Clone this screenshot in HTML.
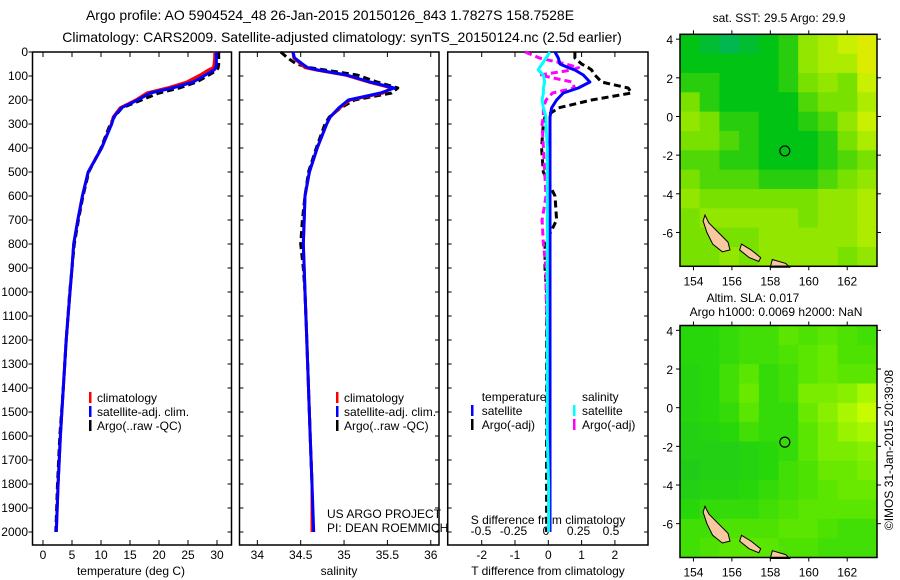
<!DOCTYPE html>
<html><head><meta charset="utf-8"><style>
body{margin:0;background:#fff;}
svg{display:block;font-family:"Liberation Sans",sans-serif;}
text{font-size:12px;fill:#000;}
</style></head><body>
<svg id="c" width="900" height="580" viewBox="0 0 900 580" xmlns="http://www.w3.org/2000/svg">
<rect x="0" y="0" width="900" height="580" fill="#fff"/>
<text x="330" y="20" text-anchor="middle" style="font-size:14px">Argo profile: AO 5904524_48 26-Jan-2015 20150126_843 1.7827S 158.7528E</text>
<text x="342" y="42" text-anchor="middle" style="font-size:14px">Climatology: CARS2009. Satellite-adjusted climatology: synTS_20150124.nc (2.5d earlier)</text>
<text x="779" y="22" text-anchor="middle">sat. SST: 29.5 Argo: 29.9</text>
<text x="753" y="302" text-anchor="middle">Altim. SLA: 0.017</text>
<text x="776" y="316" text-anchor="middle">Argo h1000: 0.0069 h2000: NaN</text>
<text transform="translate(893,450) rotate(-90)" text-anchor="middle">©IMOS 31-Jan-2015 20:39:08</text>
<g id="g"></g>
</svg>
<script>
// ---- profile data ----
const depths = [0,25,50,65,75,96,125,150,171,200,233,271,300,400,500,600,700,800,900,1000,1200,1400,1600,1800,2000];
const tempClim = [29.6,29.6,29.5,29.4,28.5,27.1,24.8,21.4,17.9,16.0,13.3,12.1,11.8,10.1,7.8,6.8,6.0,5.3,5.0,4.65,4.0,3.5,3.0,2.6,2.3];
const tempSat = [29.9,29.9,29.9,29.8,29.5,28.0,25.9,22.3,18.5,16.3,13.5,12.2,11.85,10.1,7.8,6.8,6.0,5.3,5.0,4.65,4.0,3.5,3.0,2.6,2.3];
const tempArgo = [30.3,30.3,30.3,30.2,30.0,28.6,26.5,23.5,20.0,17.0,13.6,12.3,11.6,10.0,7.9,6.9,6.1,5.4,5.0,4.6,4.0,3.5,2.9,2.5,2.2];
const salClim = [34.41,34.42,34.5,34.55,34.68,35.01,35.28,35.55,35.45,35.07,34.95,34.84,34.8,34.69,34.6,34.55,34.54,34.53,34.54,34.55,34.57,34.59,34.61,34.63,34.63];
const salSat = [34.41,34.43,34.52,34.58,34.7,35.03,35.3,35.58,35.42,35.05,34.94,34.84,34.8,34.69,34.6,34.55,34.54,34.53,34.54,34.55,34.57,34.59,34.61,34.63,34.65];
const salArgo = [34.27,34.35,34.45,34.6,34.78,35.15,35.38,35.62,35.55,35.12,34.96,34.83,34.78,34.68,34.59,34.55,34.52,34.5,34.53,34.55,34.57,34.59,34.61,34.63,34.63];
const dTsat = [0.2,0.3,0.35,0.6,0.8,1.05,1.25,0.9,0.45,0.25,0.1,0.05,0.05,0.05,0.05,0.05,0.05,0.05,0.05,0.05,0.05,0.05,0.05,0.05,0.05];
const dTargo = [0.8,0.8,1.0,1.2,1.3,1.4,1.6,2.4,2.5,1.3,0.3,-0.1,-0.15,-0.2,-0.15,0.2,0.25,-0.1,-0.1,-0.05,-0.05,-0.05,-0.05,-0.05,-0.05];
const dSsat = [0.03,0.0,-0.03,-0.05,-0.06,-0.02,-0.01,-0.02,-0.02,-0.03,-0.02,0.0,0.0,0.01,0.01,0.01,0.01,0.01,0.01,0.01,0.01,0.01,0.01,0.02,0.02];
const dSargo = [-0.16,-0.05,0.15,0.25,0.2,-0.05,0.2,0.22,0.05,0.0,-0.02,-0.02,-0.03,-0.02,-0.01,0.0,-0.03,-0.02,0.0,0.0,0.01,0.01,0.01,0.02,0.02];
const depthTicks = [0,100,200,300,400,500,600,700,800,900,1000,1100,1200,1300,1400,1500,1600,1700,1800,1900,2000];
const tempTicks = [0,5,10,15,20,25,30];
const salTicks = [34,34.5,35,35.5,36];
const dTTicks = [-2,-1,0,1,2];
const dSTicks = [-0.5,-0.25,0,0.25,0.5];
const dSTickLabels = ["-0.5","-0.25","0","0.25","0.5"];
// ---- map data (coarse 10 x 12 grid, colour index 0..1) ----
const sstRows = [
[0.45,0.4,0.35,0.4,0.45,0.5,0.65,0.7,0.75,0.8],
[0.45,0.45,0.45,0.45,0.45,0.5,0.65,0.7,0.7,0.8],
[0.5,0.5,0.45,0.45,0.45,0.5,0.6,0.65,0.6,0.75],
[0.6,0.5,0.45,0.45,0.45,0.45,0.55,0.6,0.6,0.7],
[0.65,0.6,0.5,0.5,0.45,0.45,0.5,0.55,0.65,0.75],
[0.6,0.6,0.55,0.5,0.45,0.45,0.45,0.5,0.6,0.7],
[0.55,0.55,0.5,0.5,0.45,0.45,0.45,0.5,0.55,0.6],
[0.6,0.55,0.55,0.55,0.5,0.5,0.5,0.55,0.6,0.65],
[0.65,0.6,0.6,0.6,0.6,0.6,0.6,0.65,0.65,0.7],
[0.6,0.65,0.65,0.65,0.65,0.65,0.6,0.65,0.65,0.7],
[0.6,0.6,0.6,0.6,0.65,0.65,0.65,0.65,0.65,0.7],
[0.6,0.6,0.65,0.6,0.65,0.65,0.65,0.65,0.6,0.65]];
const slaRows = [
[0.4,0.4,0.45,0.5,0.5,0.6,0.55,0.6,0.55,0.5],
[0.4,0.4,0.45,0.5,0.5,0.55,0.6,0.65,0.55,0.55],
[0.35,0.4,0.5,0.6,0.45,0.5,0.6,0.65,0.6,0.6],
[0.35,0.4,0.5,0.65,0.45,0.5,0.7,0.7,0.75,0.85],
[0.35,0.4,0.45,0.6,0.45,0.45,0.65,0.75,0.85,0.95],
[0.3,0.35,0.4,0.5,0.45,0.45,0.6,0.7,0.8,0.85],
[0.3,0.3,0.3,0.35,0.4,0.45,0.6,0.7,0.7,0.75],
[0.25,0.3,0.3,0.35,0.4,0.5,0.55,0.65,0.65,0.7],
[0.3,0.35,0.35,0.4,0.45,0.5,0.55,0.6,0.65,0.65],
[0.4,0.45,0.45,0.45,0.5,0.55,0.6,0.6,0.6,0.6],
[0.5,0.5,0.55,0.55,0.55,0.6,0.6,0.55,0.5,0.5],
[0.5,0.55,0.6,0.6,0.6,0.55,0.55,0.5,0.5,0.5]];
const lonTicks = [154,156,158,160,162];
const latTicks = [4,2,0,-2,-4,-6];
const floatLon = 158.7528, floatLat = -1.7827;
const bougainville = [[154.6,-5.1],[154.8,-5.5],[155.3,-6.0],[155.8,-6.5],[155.9,-6.9],[155.5,-7.0],[155.0,-6.6],[154.7,-6.0],[154.5,-5.4]];
const choiseul = [[156.5,-6.6],[157.0,-6.9],[157.5,-7.3],[157.4,-7.5],[156.9,-7.3],[156.4,-6.9]];
const isabel = [[158.1,-7.4],[158.8,-7.6],[159.0,-7.8],[158.0,-7.8]];

const NS='http://www.w3.org/2000/svg';
const G=document.getElementById('g');
function el(tag,attrs,parent){const e=document.createElementNS(NS,tag);for(const k in attrs)e.setAttribute(k,attrs[k]);(parent||G).appendChild(e);return e;}
function txt(x,y,s,anchor,parent){const t=el('text',{x:x,y:y,'text-anchor':anchor||'start'},parent);t.textContent=s;return t;}

const top0=52, bot0=545;
function yD(d){return top0+d*0.24;}
const panels=[
 {x0:32.5,x1:231.5,name:'temperature-panel'},
 {x0:239.5,x1:439,name:'salinity-panel'},
 {x0:447.7,x1:648,name:'difference-panel'}];
function xT(v){return 43+v*5.8;}
function xS(v){return 300.7+(v-34.5)*86.7;}
function xDT(v){return 548.3+v*33.3;}
function xDS(v){return 546+v*130;}

function line(xf,vals,color,dashed,name,parent){
  const pts=vals.map((v,i)=>xf(v).toFixed(1)+','+yD(depths[i]).toFixed(1)).join(' ');
  const p=el('polyline',{points:pts,fill:'none',stroke:color,'stroke-width':3,'stroke-linejoin':'round'},parent);
  if(dashed)p.setAttribute('stroke-dasharray','7,4');
  
  
}

panels.forEach((p,pi)=>{
  const g=el('g',{});
  
  
  el('rect',{x:p.x0,y:top0,width:p.x1-p.x0,height:bot0-top0,fill:'#fff',stroke:'#000','stroke-width':1.5},g);
  depthTicks.forEach(d=>{
    el('line',{x1:p.x0,x2:p.x0+(pi==0?-4:4),y1:yD(d),y2:yD(d),stroke:'#000'},g);
    el('line',{x1:p.x1,x2:p.x1-4,y1:yD(d),y2:yD(d),stroke:'#000'},g);
    if(pi==0){const t=txt(28,yD(d)+4,String(d),'end',g);}
  });
});
function xticks(vals,xf,labels,y,tick){
  vals.forEach((v,i)=>{
    const x=xf(v);
    if(tick){el('line',{x1:x,x2:x,y1:bot0,y2:bot0-5,stroke:'#000'});el('line',{x1:x,x2:x,y1:top0,y2:top0+5,stroke:'#000'});}
    const t=txt(x,y,labels?labels[i]:String(v),'middle');
    
    
  });
}
xticks(tempTicks,xT,null,559,true);
xticks(salTicks,xS,null,559,true);
xticks(dTTicks,xDT,null,559,true);
xticks(dSTicks,xDS,dSTickLabels,535,false);
[['temperature (deg C)',131,575],['salinity',339,575],['T difference from climatology',548,575],['S difference from climatology',548,524]].forEach(a=>{
  const t=txt(a[1],a[2],a[0],'middle');
  
  
});
const credit1=txt(327,518,'US ARGO PROJECT');


const credit2=txt(327,532,'PI: DEAN ROEMMICH');



line(xT,tempArgo,'#000',true,'temp-argo-line');
line(xT,tempClim,'#f00',false,'temp-clim-line');
line(xT,tempSat,'#0000ff',false,'temp-sat-line');
line(xS,salArgo,'#000',true,'sal-argo-line');
line(xS,salClim,'#f00',false,'sal-clim-line');
line(xS,salSat,'#0000ff',false,'sal-sat-line');
line(xDT,dTargo,'#000',true,'dT-argo-line');
line(xDS,dSargo,'#ff00ff',true,'dS-argo-line');
line(xDT,dTsat,'#0000ff',false,'dT-sat-line');
line(xDS,dSsat,'#00ffff',false,'dS-sat-line');

function legendEntry(bx,tx,y,color,label){
  const g=el('g',{});
  
  
  if(color)el('rect',{x:bx,y:y-10,width:2.5,height:11,fill:color},g);
  txt(tx,y,label,'start',g);
}
[[89,97],[336,344]].forEach(p=>{
  legendEntry(p[0],p[1],402,'#f00','climatology');
  legendEntry(p[0],p[1],416,'#0000ff','satellite-adj. clim.');
  legendEntry(p[0],p[1],430,'#000','Argo(..raw -QC)');
});
legendEntry(0,481.7,401,null,'temperature');
legendEntry(471,481.7,415,'#0000ff','satellite');
legendEntry(471,481.7,429,'#000','Argo(-adj)');
legendEntry(0,582,401,null,'salinity');
legendEntry(573,582,415,'#00ffff','satellite');
legendEntry(573,582,429,'#ff00ff','Argo(-adj)');

// ---- maps ----
function lerp(a,b,t){return a+(b-a)*t;}
function cmap(stops,v){
  for(let i=0;i<stops.length-1;i++){if(v<=stops[i+1][0]){const t=(v-stops[i][0])/(stops[i+1][0]-stops[i][0]);const a=stops[i][1],b=stops[i+1][1];return 'rgb('+Math.round(lerp(a[0],b[0],t))+','+Math.round(lerp(a[1],b[1],t))+','+Math.round(lerp(a[2],b[2],t))+')';}}
  const c=stops[stops.length-1][1];return 'rgb('+c+')';
}
const sstStops=[[0,[0,0,200]],[0.25,[0,170,140]],[0.45,[0,195,20]],[0.6,[120,225,0]],[0.75,[200,240,0]],[0.85,[240,230,0]],[1,[255,150,0]]];
const slaStops=[[0,[20,185,50]],[0.4,[40,215,10]],[0.6,[90,230,0]],[1,[215,255,0]]];
function drawMap(rows,stops,top,name){
  const x0=680,x1=877,bot=top+232;
  const lon0=153.3,lon1=163.55,lat0=4.25,lat1=-7.75;
  const X=lon=>x0+(lon-lon0)/(lon1-lon0)*(x1-x0);
  const Y=lat=>top+(lat-lat0)/(lat1-lat0)*(bot-top);
  const g=el('g',{});
  
  
  const nr=rows.length,nc=rows[0].length,cw=(x1-x0)/nc,ch=(bot-top)/nr;
  rows.forEach((r,i)=>r.forEach((v,j)=>{
    const c=el('rect',{x:x0+j*cw,y:top+i*ch,width:cw+0.5,height:ch+0.5,fill:cmap(stops,v)},g);
    
    
  }));
  [bougainville,choiseul,isabel].forEach(poly=>{
    const pg=el('polygon',{points:poly.map(p=>X(p[0]).toFixed(1)+','+Y(p[1]).toFixed(1)).join(' '),fill:'#f8c8a0',stroke:'#000','stroke-width':1},g);
    
    
  });
  const m=el('circle',{cx:X(floatLon),cy:Y(floatLat),r:5,fill:'none',stroke:'#000','stroke-width':1.2},g);
  
  
  el('rect',{x:x0,y:top,width:x1-x0,height:bot-top,fill:'none',stroke:'#000','stroke-width':1.5},g);
  lonTicks.forEach(l=>{
    const x=X(l);
    el('line',{x1:x,x2:x,y1:top,y2:top-4,stroke:'#000'},g);
    el('line',{x1:x,x2:x,y1:bot,y2:bot+4,stroke:'#000'},g);
    const t=txt(x,bot+19,String(l),'middle',g);
    
    
  });
  latTicks.forEach(l=>{
    const y=Y(l);
    el('line',{x1:x0,x2:x0-4,y1:y,y2:y,stroke:'#000'},g);
    el('line',{x1:x1,x2:x1+4,y1:y,y2:y,stroke:'#000'},g);
    const t=txt(673,y+5,String(l),'end',g);
    
    
  });
}
drawMap(sstRows,sstStops,34.3,'sst-map');
drawMap(slaRows,slaStops,325.5,'sla-map');
</script>
</body></html>
